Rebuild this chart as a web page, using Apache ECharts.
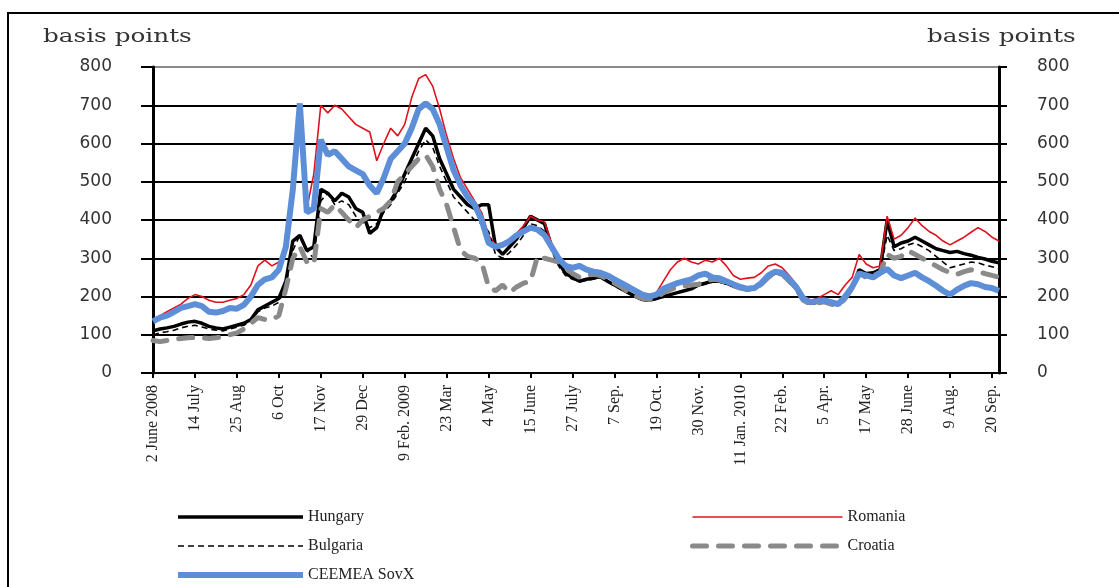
<!DOCTYPE html>
<html><head><meta charset="utf-8">
<script src="https://cdn.jsdelivr.net/npm/echarts@6/dist/echarts.min.js"></script>
<style>html,body{margin:0;padding:0;background:#fff}#c{width:1119px;height:587px}</style>
</head><body><div id="c"></div><script>
const tickLabels = ['2 June 2008','14 July','25 Aug','6 Oct','17 Nov','29 Dec','9 Feb. 2009','23 Mar','4 May','15 June','27 July','7 Sep.','19 Oct.','30 Nov.','11 Jan. 2010','22 Feb.','5 Apr.','17 May','28 June','9 Aug.','20 Sep.'];
const yTicks = [0,100,200,300,400,500,600,700,800];

const hungary = [110,115,118,122,128,133,135,130,122,118,115,120,
125,130,140,165,175,185,195,240,345,360,320,330,
480,470,450,470,460,430,420,365,380,430,450,480,
520,560,600,640,620,560,520,480,460,440,430,440,
440,330,310,330,350,380,410,400,390,330,290,260,
250,240,245,248,252,240,230,220,210,200,192,190,
195,200,205,210,215,220,230,235,240,240,235,228,
222,218,220,232,250,262,258,240,220,192,182,185,
188,182,178,198,225,270,260,262,270,400,330,340,
345,355,345,335,325,320,315,318,312,308,302,298,
292,288];
const romania = [140,150,160,170,180,195,205,200,190,185,185,190,
195,205,230,280,295,280,290,330,470,690,430,520,
700,680,700,690,670,650,640,630,555,600,640,620,
650,720,770,780,750,690,620,560,510,480,450,420,
360,335,340,350,365,385,410,400,395,340,300,285,
280,285,275,270,265,258,248,238,228,218,208,200,
210,240,270,290,300,290,285,295,290,300,280,255,
245,248,250,262,280,285,275,255,232,200,190,195,
205,215,205,230,250,310,285,275,280,410,350,360,
380,405,385,370,360,345,335,345,355,368,380,370,
355,345];
const bulgaria = [100,105,108,112,118,122,125,120,115,112,110,115,
120,125,135,160,170,175,185,230,320,360,320,300,
450,470,440,450,440,410,395,380,390,420,440,470,
500,540,580,610,590,540,500,460,440,420,400,390,
370,310,300,315,335,360,390,385,370,320,280,255,
245,240,242,245,248,238,228,218,208,198,190,188,
192,200,205,210,215,220,228,232,238,238,232,225,
220,215,218,230,248,260,255,238,218,190,180,183,
186,180,176,195,222,265,255,258,265,360,320,325,
335,340,330,320,305,290,275,280,285,290,288,282,
278,272];
const croatia = [85,82,85,88,90,92,93,92,90,92,95,100,
105,115,130,145,140,140,150,220,300,330,290,285,
430,420,440,420,400,380,400,410,420,430,450,500,
520,540,560,570,540,480,440,380,320,305,300,290,
225,215,230,210,225,235,240,305,300,295,290,275,
260,250,255,258,255,245,235,225,212,202,195,192,
198,210,218,225,228,230,232,240,245,243,236,228,
222,218,220,232,250,262,258,240,220,190,180,183,
186,180,176,195,222,262,250,255,262,310,300,305,
320,310,300,290,280,270,262,258,265,270,265,260,
255,250];
const ceemea = [135,145,150,160,170,175,180,175,160,158,162,170,
168,178,200,230,245,250,270,330,480,705,420,430,
610,570,580,560,540,530,520,490,470,510,560,580,
600,640,690,705,690,650,590,530,490,460,440,400,
340,330,335,345,360,370,380,375,360,330,300,280,
275,280,270,265,262,255,245,235,225,215,205,200,
205,220,228,235,240,245,255,260,250,248,240,232,
225,220,222,235,255,265,262,245,225,195,185,188,
190,185,180,200,225,260,255,250,262,272,255,248,
255,262,250,240,228,215,205,218,228,235,232,225,
222,215];

const weeks = [];
for (let i = 0; i < hungary.length; i++) weeks.push(i % 6 === 0 ? tickLabels[i / 6] : 'w' + i);
const every6 = (idx) => idx % 6 === 0;

const chart = echarts.init(document.getElementById('c'), null, {renderer: 'canvas'});
const gridColors = yTicks.map(v => v === 800 ? '#8a8a8a' : '#000');
const yBase = {
  type: 'value', min: 0, max: 800, interval: 100,
  axisLine: {show: true, lineStyle: {color: '#000', width: 3}},
  axisTick: {show: true, lineStyle: {color: '#000', width: 2}},
  axisLabel: {fontFamily: 'DejaVu Sans', fontSize: 17, color: '#333'}
};
const legendCommon = {
  orient: 'vertical', padding: 0, itemHeight: 14, itemGap: 13, itemWidth: 125,
  itemStyle: {color: 'rgba(0,0,0,0)', borderWidth: 0, opacity: 0},
  lineStyle: {width: 'inherit', type: 'inherit', color: 'inherit'},
  textStyle: {fontFamily: 'Liberation Serif', fontSize: 16, color: '#222'}
};
chart.setOption({
  animation: false,
  backgroundColor: '#fff',
  grid: {left: 153, right: 120, top: 67, bottom: 214, containLabel: false},
  xAxis: {
    type: 'category', boundaryGap: false, data: weeks,
    axisLine: {lineStyle: {color: '#000', width: 2}},
    axisTick: {interval: every6, length: 5, lineStyle: {color: '#000', width: 2}},
    axisLabel: {interval: every6, rotate: 90, margin: 12, fontFamily: 'Liberation Serif', fontSize: 16, color: '#222'},
    splitLine: {show: false}
  },
  yAxis: [
    Object.assign({}, yBase, {position: 'left',
      axisTick: {show: true, length: 12, lineStyle: {color: '#000', width: 2}},
      axisLabel: Object.assign({}, yBase.axisLabel, {margin: 41}),
      splitLine: {show: true, lineStyle: {color: gridColors, width: 2}}}),
    Object.assign({}, yBase, {position: 'right',
      axisTick: {show: true, length: 8, lineStyle: {color: '#000', width: 2}},
      axisLabel: Object.assign({}, yBase.axisLabel, {margin: 38}),
      splitLine: {show: false}})
  ],
  legend: [
    Object.assign({}, legendCommon, {left: 175, top: 509, data: ['Hungary', 'Bulgaria', 'CEEMEA SovX']}),
    Object.assign({}, legendCommon, {left: 690, top: 509, itemWidth: 150, data: ['Romania', 'Croatia']})
  ],
  graphic: [
    {type: 'rect', shape: {x: 8, y: 13, width: 1200, height: 700}, style: {fill: 'none', stroke: '#000', lineWidth: 2}, silent: true},
    {type: 'text', x: 43, y: 28, scaleX: 1.3, style: {text: 'basis points', fontFamily: 'DejaVu Serif', fontSize: 19, fill: '#333'}},
    {type: 'text', x: 927, y: 28, scaleX: 1.3, style: {text: 'basis points', fontFamily: 'DejaVu Serif', fontSize: 19, fill: '#333'}}
  ],
  series: [
    {name: 'Hungary', type: 'line', data: hungary, symbol: 'none', lineStyle: {color: '#000', width: 3.5}, itemStyle: {color: '#000'}},
    {name: 'Romania', type: 'line', data: romania, symbol: 'none', lineStyle: {color: '#e3101c', width: 1.6}, itemStyle: {color: '#e3101c'}},
    {name: 'Bulgaria', type: 'line', data: bulgaria, symbol: 'none', lineStyle: {color: '#000', width: 1.6, type: [6, 4]}, itemStyle: {color: '#000'}},
    {name: 'Croatia', type: 'line', data: croatia, symbol: 'none', lineStyle: {color: '#8a8a8a', width: 5, type: [14, 12], cap: 'round'}, itemStyle: {color: '#8a8a8a'}},
    {name: 'CEEMEA SovX', type: 'line', data: ceemea, symbol: 'none', lineStyle: {color: '#5d8fd9', width: 6}, itemStyle: {color: '#5d8fd9'}}
  ]
});
</script></body></html>
